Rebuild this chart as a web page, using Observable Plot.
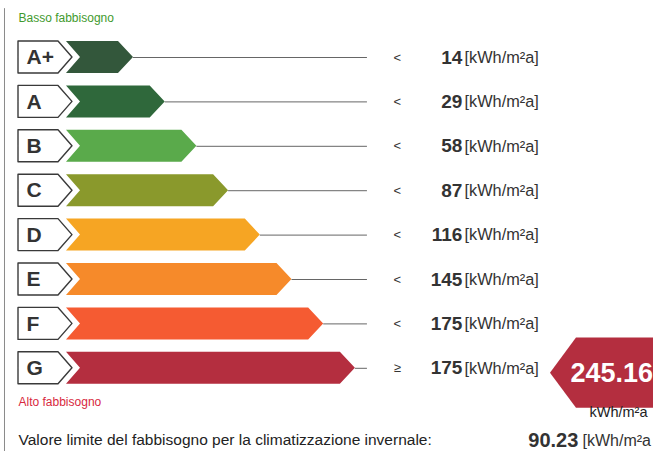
<!DOCTYPE html>
<html>
<head>
<meta charset="utf-8">
<script src="https://cdn.jsdelivr.net/npm/d3@7"></script>
<script src="https://cdn.jsdelivr.net/npm/@observablehq/plot@0.6"></script>
<style>
  html, body { margin: 0; padding: 0; background: #fff; }
  #chart svg { display: block; }
</style>
</head>
<body>
<div id="chart"></div>
<script>
// ---- data ----
const classes     = ["A+", "A", "B", "C", "D", "E", "F", "G"];
const comparators = ["<", "<", "<", "<", "<", "<", "<", "≥"];
const thresholds  = [14, 29, 58, 87, 116, 145, 175, 175];
const classColors = ["#33573b", "#2f683b", "#5aaa4b", "#8a992c", "#f6a523", "#f68a2a", "#f55b32", "#b42e3f"];
const unitLabel   = "[kWh/m²a]";
const buildingValue = 245.16;
const buildingClass = "G";
const limitValue  = 90.23;
const topLabel    = "Basso fabbisogno";
const bottomLabel = "Alto fabbisogno";
const limitLabel  = "Valore limite del fabbisogno per la climatizzazione invernale:";

// ---- layout (x in class-step units, y in row units) ----
const W = 653, H = 451;
const half = 0.36;          // half bar height (rows)
const tipDepth = 0.473;     // arrow tip depth (steps)
const notch = 0.442;        // left notch depth
const firstTip = 2.114;     // tip of first bar
const lineEnd = 9.495;
const rows = classes.map((c, i) => ({
  cls: c, row: i, cmp: comparators[i], thr: thresholds[i], color: classColors[i],
  tip: firstTip + i
}));

const barPts = rows.flatMap(r => [
  {cls: r.cls, y: r.row - half, x1: 0, x2: r.tip - tipDepth, color: r.color},
  {cls: r.cls, y: r.row,        x1: notch, x2: r.tip, color: r.color},
  {cls: r.cls, y: r.row + half, x1: 0, x2: r.tip - tipDepth, color: r.color}
]);
const boxPts = rows.flatMap(r => [
  {cls: r.cls, y: r.row - half, x1: -1.514, x2: -0.252},
  {cls: r.cls, y: r.row,        x1: -1.514, x2: 0.189},
  {cls: r.cls, y: r.row + half, x1: -1.514, x2: -0.252}
]);
const gRow = classes.indexOf(buildingClass) + 0.11;
const bigHalf = 0.79;
const bigPts = [
  {y: gRow - bigHalf, x1: 16.09, x2: 19},
  {y: gRow,           x1: 15.27, x2: 19},
  {y: gRow + bigHalf, x1: 16.09, x2: 19}
];

const font = "'Liberation Sans', Arial, sans-serif";

const chart = Plot.plot({
  width: W, height: H,
  margin: 0,
  x: {domain: [-2.082, 18.52], range: [0, W], axis: null},
  y: {domain: [-1.284, 8.874], range: [0, H], axis: null},
  color: {type: "identity"},
  style: {background: "#fff", fontFamily: font},
  marks: [
    // left frame line
    Plot.ruleX([-1.956], {y1: -1.10, y2: 8.874, stroke: "#8a8a8a", strokeWidth: 1}),
    // connector lines
    Plot.ruleY(rows, {y: "row", x1: "tip", x2: lineEnd, stroke: "#666", strokeWidth: 1}),
    // label boxes
    Plot.areaX(boxPts, {y: "y", x1: "x1", x2: "x2", z: "cls", fill: "#fff", stroke: "#3a3a3a", strokeWidth: 1.4, curve: "linear"}),
    Plot.text(rows, {x: -1.262, y: "row", text: "cls", textAnchor: "start", fontSize: 21, fontWeight: "bold", fill: "#333"}),
    // class bars
    Plot.areaX(barPts, {y: "y", x1: "x1", x2: "x2", z: "cls", fill: "color", curve: "linear"}),
    // comparators
    Plot.text(rows, {x: 10.44, y: "row", text: "cmp", fontSize: 13, fill: "#333"}),
    // thresholds
    Plot.text(rows, {x: 12.49, y: "row", text: d => String(d.thr), textAnchor: "end", fontSize: 19, fontWeight: "bold", fill: "#333"}),
    Plot.text(rows, {x: 12.56, y: "row", text: () => unitLabel, textAnchor: "start", fontSize: 16.3, fill: "#333"}),
    // top / bottom labels
    Plot.text([topLabel], {x: -1.514, y: -0.878, text: d => d, textAnchor: "start", fontSize: 12, fill: "#3f9a2e"}),
    Plot.text([bottomLabel], {x: -1.514, y: 7.77, text: d => d, textAnchor: "start", fontSize: 12, fill: "#d8283e"}),
    // building value arrow
    Plot.areaX(bigPts, {y: "y", x1: "x1", x2: "x2", fill: "#b42e3f", curve: "linear"}),
    Plot.text([buildingValue], {x: 15.9, y: gRow, text: d => d.toFixed(2), textAnchor: "start", fontSize: 27, fontWeight: "bold", fill: "#fff"}),
    Plot.text(["kWh/m²a"], {x: 18.33, y: 7.99, text: d => d, textAnchor: "end", fontSize: 14.5, fill: "#222"}),
    // limit value line
    Plot.text([limitLabel], {x: -1.514, y: 8.626, text: d => d, textAnchor: "start", fontSize: 15.5, fill: "#222"}),
    Plot.text([limitValue], {x: 16.15, y: 8.626, text: d => d.toFixed(2), textAnchor: "end", fontSize: 20, fontWeight: "bold", fill: "#333"}),
    Plot.text(["[kWh/m²a"], {x: 16.28, y: 8.626, text: d => d, textAnchor: "start", fontSize: 16, fill: "#333"})
  ]
});
document.getElementById("chart").appendChild(chart);
</script>
</body>
</html>
